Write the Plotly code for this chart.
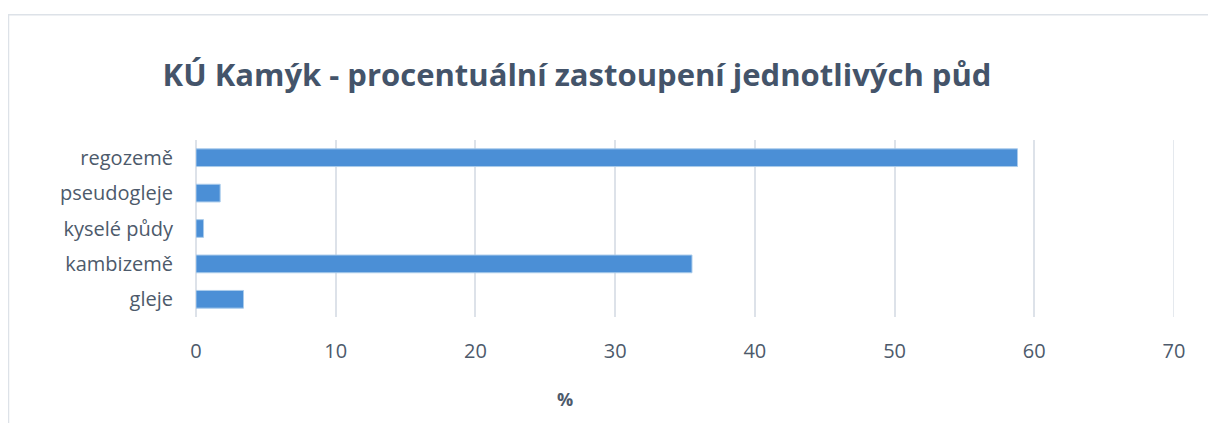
import plotly.graph_objects as go

categories = ["gleje", "kambizemě", "kyselé půdy", "pseudogleje", "regozemě"]
values = [3.4, 35.5, 0.54, 1.73, 58.8]
x_ticks = [0, 10, 20, 30, 40, 50, 60, 70]

OFF = 8  # page body margin
W, H = 1216 - OFF, 423 - OFF
ML, MR, MT, MB = 196 - OFF, 42, 140 - OFF, 105.5
PW, PH = W - ML - MR, H - MT - MB

def px_x(p):
    return (p - OFF - ML) / PW

def px_y(p):
    return (H - MB - (p - OFF)) / PH

fig = go.Figure(go.Bar(
    y=categories, x=values, orientation="h", width=0.5,
    marker=dict(color="#4B8FD6", line=dict(color="#A9CBEB", width=1)),
))

font_fam = "Open Sans, Noto Sans, sans-serif"
txt_col = "#4D5A6B"
grid_col = "#DDE2E9"
fig.update_layout(
    width=W, height=H,
    margin=dict(l=ML, r=MR, t=MT, b=MB),
    paper_bgcolor="white", plot_bgcolor="white",
    showlegend=False,
    font=dict(family=font_fam, color=txt_col, size=16),
    title=dict(text="<b>KÚ Kamýk - procentuální zastoupení jednotlivých půd</b>",
               font=dict(size=31, color="#44546A", family=font_fam),
               xref="paper", x=px_x(577), xanchor="center",
               yref="container", y=1 - (75 - OFF) / H, yanchor="middle"),
    xaxis=dict(range=[0, 70], tickvals=x_ticks, showgrid=True, gridcolor=grid_col, gridwidth=1.5,
               zeroline=True, zerolinecolor=grid_col, zerolinewidth=1.5,
               ticks="outside", ticklen=16, tickcolor="rgba(0,0,0,0)",
               tickfont=dict(size=20, color=txt_col), showline=False),
    yaxis=dict(categoryorder="array", categoryarray=categories, showgrid=False,
               ticks="outside", ticklen=18, tickcolor="rgba(0,0,0,0)",
               tickfont=dict(size=20, color=txt_col), showline=False),
)

# gridline at the right edge (plotly omits it at the range end)
fig.add_shape(type="line", xref="x", yref="paper", x0=x_ticks[-1], x1=x_ticks[-1], y0=0, y1=1,
              line=dict(color=grid_col, width=1.5), layer="below")

fig.add_annotation(text="<b>%</b>", xref="paper", yref="paper",
                   x=px_x(565), y=px_y(400), showarrow=False,
                   font=dict(size=18, color=txt_col, family=font_fam),
                   xanchor="center", yanchor="middle")

fig.add_shape(type="rect", xref="paper", yref="paper",
              x0=px_x(8.5), x1=px_x(1240), y0=px_y(440), y1=px_y(14.5),
              line=dict(color="#DDE2E8", width=1.5), fillcolor="rgba(0,0,0,0)", layer="below")

fig.write_html("out.html")
